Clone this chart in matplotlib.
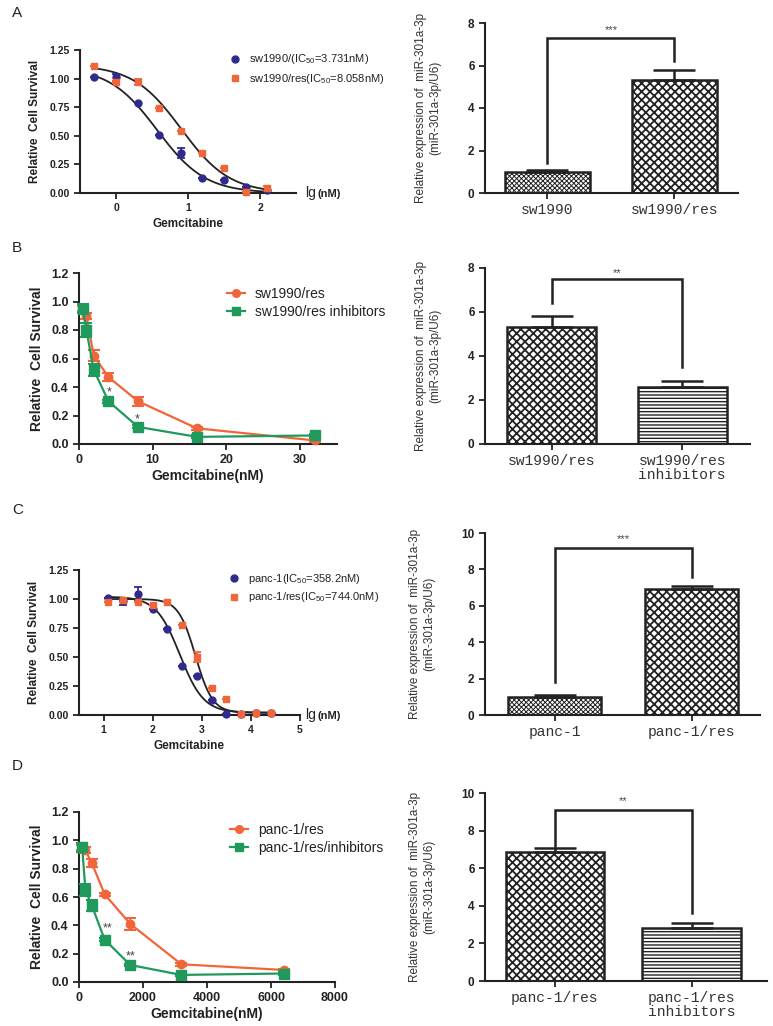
import numpy as np
import matplotlib.pyplot as plt
from matplotlib.lines import Line2D

plt.rcParams['font.family'] = ['Liberation Sans', 'DejaVu Sans']
plt.rcParams['mathtext.fontset'] = 'custom'
plt.rcParams['mathtext.rm'] = 'Liberation Sans'
plt.rcParams['hatch.linewidth'] = 1.2

W, H = 773, 1026

BLUE = '#2f2b8c'
ORANGE = '#f0663a'
GREEN = '#1f9a5c'
INK = '#222222'

# ---- A left: sw1990 dose response (lg nM)
a_x = [-0.3, 0.0, 0.3, 0.6, 0.9, 1.2, 1.5, 1.8, 2.1]
a_sw = [1.01, 1.01, 0.79, 0.51, 0.35, 0.13, 0.11, 0.05, 0.03]
a_sw_err = [0, 0.03, 0, 0, 0.04, 0, 0, 0, 0]
a_res = [1.11, 0.97, 0.97, 0.74, 0.54, 0.35, 0.22, 0.01, 0.04]
a_res_err = [0, 0.01, 0.03, 0, 0, 0, 0, 0, 0.02]
# fit params: top, bottom, IC50 (nM), hill slope
a_sw_fit = [1.10, 0.0, 3.731, 1.3]
a_res_fit = [1.12, 0.0, 8.058, 1.3]

# ---- B left: sw1990/res vs inhibitors (nM)
b_x = [0.5, 1, 2, 4, 8, 16, 32]
b_res = [0.95, 0.90, 0.62, 0.47, 0.30, 0.11, 0.025]
b_res_err = [0.02, 0.02, 0.04, 0.03, 0.03, 0.01, 0.01]
b_inh = [0.95, 0.80, 0.52, 0.30, 0.12, 0.05, 0.06]
b_inh_err = [0.03, 0.05, 0.04, 0.01, 0.01, 0.01, 0.01]
b_stars = [(4.1, 0.36, '*'), (7.9, 0.17, '*')]

# ---- C left: panc-1 dose response (lg nM)
c_x = [1.1, 1.4, 1.7, 2.0, 2.3, 2.6, 2.9, 3.2, 3.5, 3.8, 4.1, 4.4]
c_p = [1.01, 0.98, 1.04, 0.91, 0.74, 0.42, 0.34, 0.13, 0.01, 0.01, 0.02, 0.02]
c_p_err = [0, 0.03, 0.06, 0, 0, 0, 0, 0, 0, 0, 0, 0]
c_res = [0.97, 0.99, 0.97, 0.95, 0.97, 0.78, 0.50, 0.23, 0.14, 0.01, 0.02, 0.02]
c_res_err = [0, 0, 0, 0, 0, 0, 0.04, 0, 0, 0, 0, 0]
c_p_fit = [1.02, 0.02, 358.2, 1.8]
c_res_fit = [1.00, 0.02, 744.0, 2.5]

# ---- D left: panc-1/res vs inhibitors (nM)
d_x = [100, 200, 400, 800, 1600, 3200, 6400]
d_res = [0.95, 0.93, 0.84, 0.62, 0.41, 0.125, 0.085]
d_res_err = [0.02, 0.02, 0.03, 0.01, 0.04, 0.01, 0.01]
d_inh = [0.95, 0.65, 0.54, 0.30, 0.12, 0.05, 0.06]
d_inh_err = [0.03, 0.04, 0.04, 0.01, 0.01, 0.01, 0.01]
d_stars = [(880, 0.38, '**'), (1620, 0.18, '**')]

# ---- bar panels (miR-301a-3p expression)
bar_A_labels = ['sw1990', 'sw1990/res']
bar_A_vals = [1.0, 5.3]
bar_A_err = [0.08, 0.5]
bar_B_labels = ['sw1990/res', 'sw1990/res\ninhibitors']
bar_B_vals = [5.3, 2.6]
bar_B_err = [0.5, 0.28]
bar_C_labels = ['panc-1', 'panc-1/res']
bar_C_vals = [1.0, 6.9]
bar_C_err = [0.08, 0.2]
bar_D_labels = ['panc-1/res', 'panc-1/res\ninhibitors']
bar_D_vals = [6.85, 2.8]
bar_D_err = [0.22, 0.3]
# bracket: left leg bottom, right leg bottom, top, stars
brk_A = [1.4, 6.2, 7.3, '***']
brk_B = [6.4, 3.5, 7.5, '**']
brk_C = [1.8, 7.6, 9.2, '***']
brk_D = [7.2, 3.6, 9.1, '**']

HATCH = {'fine': ('xxxxxxx', 0.7), 'coarse': ('xxxx', 1.3), 'lines': ('-----', 1.0)}


def rect(x0, x1, ytop, ybot):
    return [x0 / W, 1 - ybot / H, (x1 - x0) / W, (ybot - ytop) / H]


def four_pl(x, top, bottom, ic50, hill):
    return bottom + (top - bottom) / (1 + 10 ** ((x - np.log10(ic50)) * hill))


def style_axes(ax, tsize):
    for s in ['top', 'right']:
        ax.spines[s].set_visible(False)
    for s in ['left', 'bottom']:
        ax.spines[s].set_linewidth(1.5)
        ax.spines[s].set_color(INK)
    ax.tick_params(direction='out', length=4, width=1.3, colors=INK,
                   labelsize=tsize)
    for lab in ax.get_xticklabels() + ax.get_yticklabels():
        lab.set_fontweight('bold')


fig = plt.figure(figsize=(W / 100, H / 100), dpi=100)

# panel letters
for letter, y in [('A', 13), ('B', 248), ('C', 510), ('D', 766)]:
    fig.text(12 / W, 1 - y / H, letter, fontsize=11, va='center', ha='left', color=INK)


def fit_panel(r, x, y1, e1, f1, y2, e2, f2, xlim, xticks, labels, leg_xy, yticks):
    ax = fig.add_axes(r)
    xx = np.linspace(min(x), max(x), 300)
    ax.plot(xx, four_pl(xx, *f1), color=INK, lw=1.3)
    ax.plot(xx, four_pl(xx, *f2), color=INK, lw=1.3)
    ax.errorbar(x, y1, yerr=e1, fmt='o', color=BLUE, ms=5, elinewidth=1.3,
                capsize=3, capthick=1.3, clip_on=False, zorder=3)
    ax.errorbar(x, y2, yerr=e2, fmt='s', color=ORANGE, ms=5, elinewidth=1.3,
                capsize=3, capthick=1.3, clip_on=False, zorder=3)
    ax.set_xlim(*xlim)
    ax.set_ylim(0, 1.25)
    ax.set_xticks(xticks)
    ax.set_yticks(yticks)
    ax.set_yticklabels(['%.2f' % t for t in yticks])
    style_axes(ax, 7.5)
    ax.set_ylabel('Relative  Cell Survival', fontsize=8.5, fontweight='bold',
                  color=INK, labelpad=6)
    ax.set_xlabel('Gemcitabine', fontsize=8.5, fontweight='bold', color=INK, labelpad=3)
    h = [Line2D([], [], ls='none', marker='o', color=BLUE, ms=5),
         Line2D([], [], ls='none', marker='s', color=ORANGE, ms=5)]
    ax.legend(h, labels, loc='center left', bbox_to_anchor=(leg_xy[0] / W, 1 - leg_xy[1] / H),
              bbox_transform=fig.transFigure, frameon=False, fontsize=8,
              handlelength=1.0, handletextpad=0.8, labelspacing=0.45,
              borderpad=0, borderaxespad=0, labelcolor=INK)
    return ax


def line_panel(r, x, y1, e1, y2, e2, xlim, xticks, labels, leg_xy, stars):
    ax = fig.add_axes(r)
    ax.errorbar(x, y1, yerr=e1, fmt='-o', color=ORANGE, ms=6, lw=1.6,
                elinewidth=1.5, capsize=4, capthick=1.5, clip_on=False, zorder=3)
    ax.errorbar(x, y2, yerr=e2, fmt='-s', color=GREEN, ms=6.5, lw=1.6,
                elinewidth=1.5, capsize=4, capthick=1.5, clip_on=False, zorder=4)
    for sx, sy, st in stars:
        ax.text(sx, sy, st, fontsize=9, ha='center', va='center', color='#444444')
    ax.set_xlim(*xlim)
    ax.set_ylim(0, 1.2)
    ax.set_xticks(xticks)
    yt = [0, 0.2, 0.4, 0.6, 0.8, 1.0, 1.2]
    ax.set_yticks(yt)
    ax.set_yticklabels(['%.1f' % t for t in yt])
    style_axes(ax, 9)
    ax.set_ylabel('Relative  Cell Survival', fontsize=10, fontweight='bold',
                  color=INK, labelpad=5)
    ax.set_xlabel('Gemcitabine(nM)', fontsize=10, fontweight='bold', color=INK, labelpad=2)
    h = [Line2D([], [], marker='o', color=ORANGE, ms=5.5, lw=1.6),
         Line2D([], [], marker='s', color=GREEN, ms=5.5, lw=1.6)]
    ax.legend(h, labels, loc='center left', bbox_to_anchor=(leg_xy[0] / W, 1 - leg_xy[1] / H),
              bbox_transform=fig.transFigure, frameon=False, fontsize=10,
              handlelength=1.3, handletextpad=0.7, labelspacing=0.3,
              borderpad=0, borderaxespad=0, labelcolor=INK)
    return ax


def bar_panel(r, labels, vals, errs, hatches, width, xlim, ylim, yticks, brk):
    ax = fig.add_axes(r)
    pos = np.arange(len(vals))
    for p, v, hname in zip(pos, vals, hatches):
        pattern, hlw = HATCH[hname]
        with plt.rc_context({'hatch.linewidth': hlw}):
            ax.bar(p, v, width=width, color='white', edgecolor=INK, hatch=pattern,
                   linewidth=1.8, zorder=2)
    ax.errorbar(pos, vals, yerr=[np.zeros(len(errs)), errs], fmt='none', ecolor=INK,
                elinewidth=1.8, capsize=15, capthick=1.8, zorder=3)
    lb, rb, top, st = brk
    ax.plot([pos[0], pos[0], pos[1], pos[1]], [lb, top, top, rb], color=INK, lw=1.8,
            solid_joinstyle='miter', zorder=3)
    ax.text((pos[0] + pos[1]) / 2, top + (ylim[1] - top) * 0.55, st, fontsize=8,
            ha='center', va='center', color='#444444')
    ax.set_xlim(*xlim)
    ax.set_ylim(*ylim)
    ax.set_xticks(pos)
    ax.set_xticklabels(labels)
    ax.set_yticks(yticks)
    style_axes(ax, 8.5)
    for lab in ax.get_xticklabels():
        lab.set_fontfamily('Liberation Mono')
        lab.set_fontweight('normal')
        lab.set_fontsize(10.5)
        lab.set_color('#333333')
        lab.set_linespacing(1.0)
    ax.set_ylabel('Relative expression of  miR-301a-3p\n(miR-301a-3p/U6)', fontsize=8.5,
                  color='#333333', labelpad=19, linespacing=1.25)
    return ax


fit_panel(rect(80, 296, 50, 193), a_x, a_sw, a_sw_err, a_sw_fit, a_res, a_res_err, a_res_fit,
          (-0.5, 2.5), [0, 1, 2],
          [r'sw1990/(IC$_{50}$=3.731nM)', r'sw1990/res(IC$_{50}$=8.058nM)'],
          (229, 69), [0, 0.25, 0.5, 0.75, 1.0, 1.25])
fig.text(305 / W, 1 - 193 / H, 'lg', fontsize=10, va='center', color=INK)
fig.text(317 / W, 1 - 194 / H, '(nM)', fontsize=8, fontweight='bold', va='center', color=INK)

line_panel(rect(79, 337, 273, 444), b_x, b_res, b_res_err, b_inh, b_inh_err,
           (0, 35), [0, 10, 20, 30], ['sw1990/res', 'sw1990/res inhibitors'],
           (227, 303), b_stars)

fit_panel(rect(79, 300, 570, 715), c_x, c_p, c_p_err, c_p_fit, c_res, c_res_err, c_res_fit,
          (0.5, 5), [1, 2, 3, 4, 5],
          [r'panc-1(IC$_{50}$=358.2nM)', r'panc-1/res(IC$_{50}$=744.0nM)'],
          (228, 588), [0, 0.25, 0.5, 0.75, 1.0, 1.25])
fig.text(305 / W, 1 - 715 / H, 'lg', fontsize=10, va='center', color=INK)
fig.text(317 / W, 1 - 716 / H, '(nM)', fontsize=8, fontweight='bold', va='center', color=INK)

line_panel(rect(79, 335, 812, 982), d_x, d_res, d_res_err, d_inh, d_inh_err,
           (0, 8000), [0, 2000, 4000, 6000, 8000], ['panc-1/res', 'panc-1/res/inhibitors'],
           (230, 839), d_stars)

bar_panel(rect(485, 738, 23, 193), bar_A_labels, bar_A_vals, bar_A_err, ['fine', 'coarse'],
          0.67, (-0.49, 1.5), (0, 8), [0, 2, 4, 6, 8], brk_A)
bar_panel(rect(485, 750, 268, 444), bar_B_labels, bar_B_vals, bar_B_err, ['coarse', 'lines'],
          0.68, (-0.51, 1.52), (0, 8), [0, 2, 4, 6, 8], brk_B)
bar_panel(rect(485, 760, 533, 715), bar_C_labels, bar_C_vals, bar_C_err, ['fine', 'coarse'],
          0.68, (-0.51, 1.5), (0, 10), [0, 2, 4, 6, 8, 10], brk_C)
bar_panel(rect(485, 767, 793, 981), bar_D_labels, bar_D_vals, bar_D_err, ['coarse', 'lines'],
          0.72, (-0.51, 1.55), (0, 10), [0, 2, 4, 6, 8, 10], brk_D)

fig.savefig('out.png', dpi=100)
